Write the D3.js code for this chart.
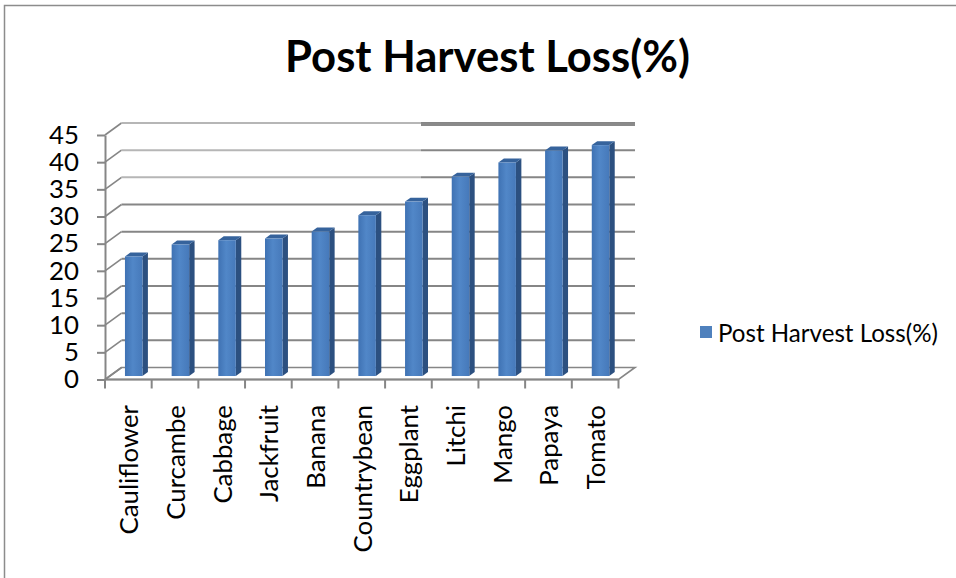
<!DOCTYPE html>
<html>
<head>
<meta charset="utf-8">
<script src="https://cdn.jsdelivr.net/npm/d3@7"></script>
<style>
  html, body { margin: 0; padding: 0; background: #ffffff; }
  svg { display: block; font-family: Lato, "Open Sans", "DejaVu Sans", sans-serif; }
</style>
</head>
<body>
<script>
// Chart data
const categories = ["Cauliflower", "Curcambe", "Cabbage", "Jackfruit", "Banana",
  "Countrybean", "Eggplant", "Litchi", "Mango", "Papaya", "Tomato"];
const lossValues = [22.0, 24.2, 25.0, 25.3, 26.6, 29.6, 32.1, 36.7, 39.3, 41.5, 42.5];
const yTicks = [0, 5, 10, 15, 20, 25, 30, 35, 40, 45];
const seriesName = "Post Harvest Loss(%)";
const chartTitle = "Post Harvest Loss(%)";

const W = 956, H = 578;
const svg = d3.select("body").append("svg").attr("width", W).attr("height", H);

// Size fonts so the strings occupy a given width
function fitSize(text, weight, target) {
  const t = svg.append("text").attr("font-size", 100).attr("font-weight", weight).text(text);
  const w = t.node().getComputedTextLength();
  t.remove();
  return 100 * target / w;
}
const labelSize = fitSize(seriesName, 400, 220);
const axisLabelSize = labelSize * 1.07;
const titleSize = fitSize(chartTitle, 700, 405);

// Outer chart frame (runs off the right and bottom edges)
svg.append("rect").attr("x", 4.5).attr("y", 5.5).attr("width", 1000).attr("height", 1000)
  .attr("fill", "none").attr("stroke", "#8c8c8c").attr("stroke-width", 1.5);

// Title
svg.append("text").attr("x", 487.5).attr("y", 72).attr("text-anchor", "middle")
  .attr("font-size", titleSize).attr("font-weight", 700).attr("fill", "#000").text(chartTitle);

// Scales (front plane of the 3-D box)
const x = d3.scaleBand().domain(categories).range([105, 618.5]).paddingInner(0).paddingOuter(0);
const y = d3.scaleLinear().domain([0, 45]).range([379.5, 135]);
const DX = 16.5, DY = -12;          // depth of the box
const x0 = x.range()[0], x1 = x.range()[1];
const gridColor = "#868686";

// Floor
svg.append("polygon")
  .attr("points", [[x0, y(0)], [x1, y(0)], [x1 + DX, y(0) + DY], [x0 + DX, y(0) + DY]].map(p => p.join(",")).join(" "))
  .attr("fill", "#fff").attr("stroke", gridColor).attr("stroke-width", 1.6);

// Back-wall gridlines and side-wall diagonals
const grid = svg.append("g");
grid.selectAll("line.back").data(yTicks.filter(t => t > 0)).join("line")
  .attr("class", "back")
  .attr("x1", x0 + DX).attr("x2", x1 + DX)
  .attr("y1", d => y(d) + DY).attr("y2", d => y(d) + DY)
  .attr("stroke", gridColor).attr("stroke-width", 2);
grid.selectAll("line.side").data(yTicks).join("line")
  .attr("class", "side")
  .attr("x1", x0).attr("x2", x0 + DX)
  .attr("y1", d => y(d)).attr("y2", d => y(d) + DY)
  .attr("stroke", gridColor).attr("stroke-width", 1.6);

// Pale band across the upper-left of the back wall, dark rule along the top right
svg.append("rect").attr("x", x0 + DX).attr("y", 116).attr("width", 421 - (x0 + DX)).attr("height", 70)
  .attr("fill", "#fff").attr("opacity", 0.4);
svg.append("line").attr("x1", 421).attr("x2", x1 + DX)
  .attr("y1", y(45) + DY + 1.5).attr("y2", y(45) + DY + 1.5)
  .attr("stroke", "#8a8a8a").attr("stroke-width", 3);

// Bars
const defs = svg.append("defs");
const grad = defs.append("linearGradient").attr("id", "frontGrad").attr("x1", 0).attr("x2", 1).attr("y1", 0).attr("y2", 0);
grad.append("stop").attr("offset", "0%").attr("stop-color", "#3f72b3");
grad.append("stop").attr("offset", "45%").attr("stop-color", "#5187c8");
grad.append("stop").attr("offset", "100%").attr("stop-color", "#4679ba");

const f0 = 0.29, f1 = 0.62;
const ox = DX * f0, oy = DY * f0;
const tx = DX * (f1 - f0), ty = DY * (f1 - f0);
const bw = x.bandwidth() * 0.375;
const bars = svg.append("g").selectAll("g").data(categories.map((c, i) => ({ c, v: lossValues[i] }))).join("g");
bars.each(function (d) {
  const g = d3.select(this);
  const bx = x(d.c) + x.bandwidth() * 0.325 + ox;
  const top = y(d.v) + oy, bot = y(0) + oy;
  g.append("polygon")
    .attr("points", [[bx + bw, top], [bx + bw + tx, top + ty], [bx + bw + tx, bot + ty], [bx + bw, bot]].map(p => p.join(",")).join(" "))
    .attr("fill", "#2c5080");
  g.append("polygon")
    .attr("points", [[bx, top], [bx + bw, top], [bx + bw + tx, top + ty], [bx + tx, top + ty]].map(p => p.join(",")).join(" "))
    .attr("fill", "#36639c");
  g.append("rect").attr("x", bx).attr("y", top).attr("width", bw).attr("height", bot - top)
    .attr("fill", "url(#frontGrad)");
});

// Y axis
const yAxis = svg.append("g").attr("transform", `translate(${x0},0)`)
  .call(d3.axisLeft(y).tickValues(yTicks).tickSize(8).tickSizeOuter(0).tickPadding(18));
yAxis.select(".domain").attr("stroke", gridColor).attr("stroke-width", 2);
yAxis.selectAll(".tick line").attr("stroke", gridColor).attr("stroke-width", 2);
yAxis.selectAll(".tick text").attr("font-size", axisLabelSize).attr("fill", "#000")
  .attr("font-family", "Lato, 'Open Sans', sans-serif");

// X axis: boundary ticks and rotated category labels
const bounds = categories.map(c => x(c)).concat([x1]);
svg.append("g").selectAll("line").data(bounds).join("line")
  .attr("x1", d => d).attr("x2", d => d).attr("y1", y(0)).attr("y2", y(0) + 9)
  .attr("stroke", gridColor).attr("stroke-width", 2);
svg.append("line").attr("x1", x0).attr("x2", x1).attr("y1", y(0)).attr("y2", y(0))
  .attr("stroke", gridColor).attr("stroke-width", 2);
svg.append("g").selectAll("text").data(categories).join("text")
  .attr("transform", d => `translate(${x(d) + x.bandwidth() / 2 + 10},405) rotate(-90)`)
  .attr("text-anchor", "end").attr("font-size", axisLabelSize).attr("fill", "#000").text(d => d);

// Legend
svg.append("rect").attr("x", 700).attr("y", 326).attr("width", 12).attr("height", 12).attr("fill", "#4f81bd");
svg.append("text").attr("x", 718).attr("y", 341.5).attr("font-size", labelSize).attr("fill", "#000").text(seriesName);
</script>
</body>
</html>
